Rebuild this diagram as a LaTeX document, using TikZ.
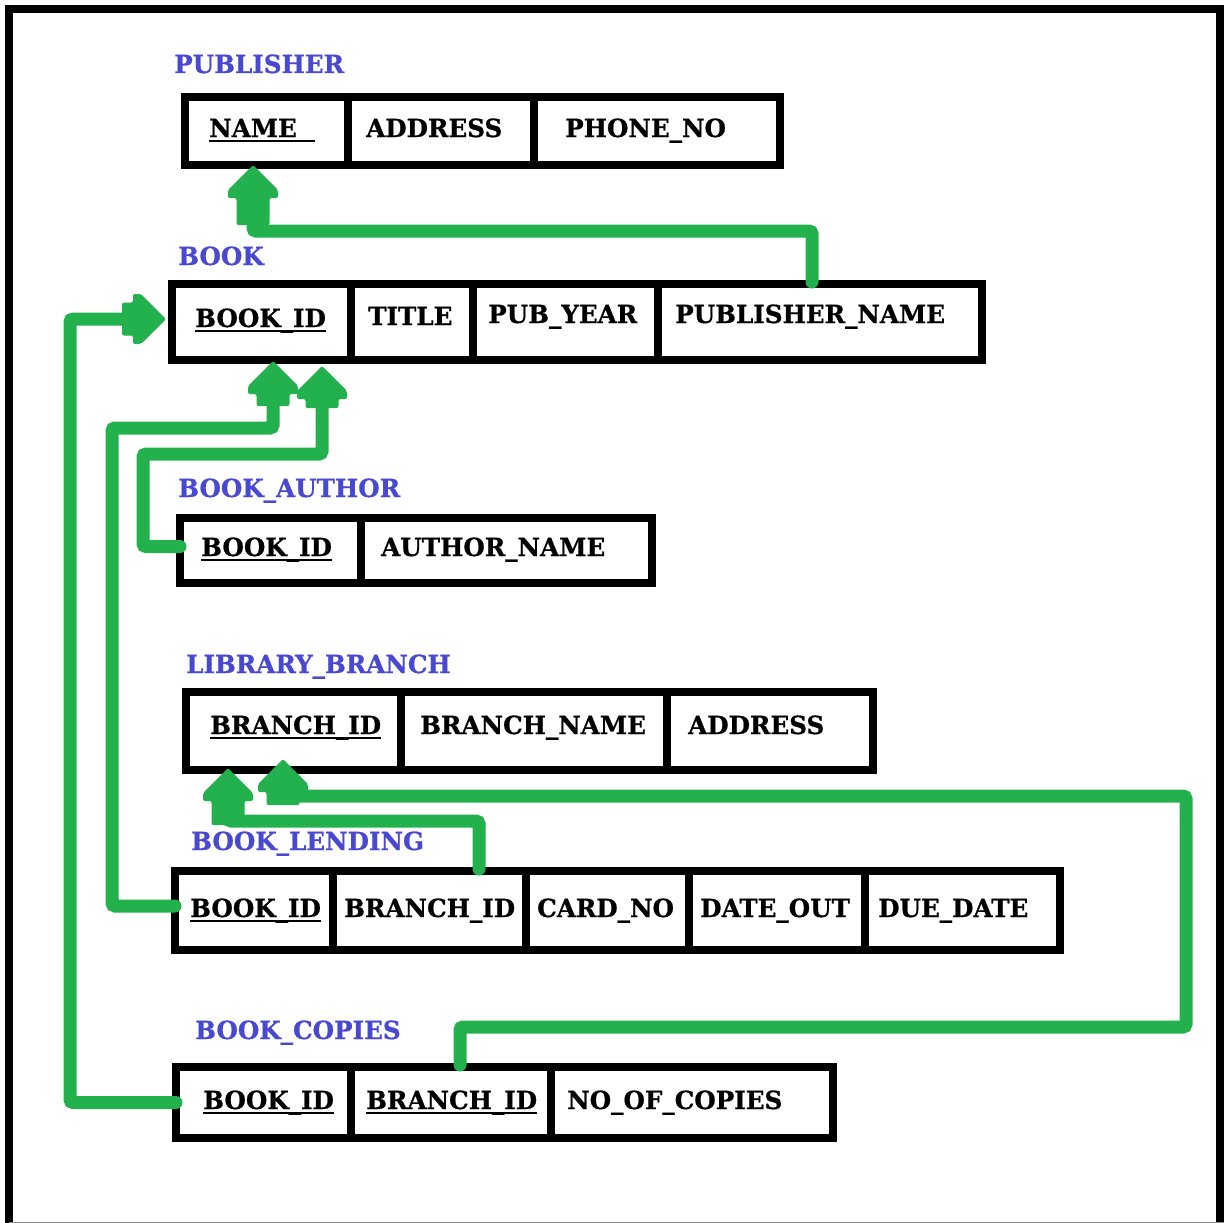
\documentclass[tikz,border=0pt]{standalone}
\usepackage{fontspec}
\newfontfamily\dvserif[FakeStretch=0.985,FakeBold=0.7]{DejaVu Serif}
\usetikzlibrary{calc}
\definecolor{pgreen}{RGB}{34,177,76}
\definecolor{lblue}{RGB}{72,72,208}
\newcommand\ulk[2][0pt]{\setbox0\hbox{#2\hspace{#1}}\rlap{\rule[-5pt]{\wd0}{2pt}}#2}
\tikzset{
  cell/.style={draw=black, line width=8pt, inner sep=0pt, outer sep=0pt, anchor=north west},
  cfont/.style={font=\dvserif\bfseries\fontsize{25pt}{30pt}\selectfont},
  ctext/.style={cfont, text=black, anchor=base west, inner sep=0pt},
  ttl/.style={cfont, text=lblue, anchor=base west, inner sep=0pt},
  conn/.style={draw=pgreen, line width=13pt, rounded corners=3pt, line cap=round},
  pics/headup/.style={code={\fill[pgreen, rounded corners=2pt] (0,0) -- (25,25) -- (25,33) -- (16.5,33) -- (16.5,#1) -- (-16.5,#1) -- (-16.5,33) -- (-25,33) -- (-25,25) -- cycle;}},
  pics/headright/.style={code={\fill[pgreen, rounded corners=2pt] (0,0) -- (-25,25) -- (-33,25) -- (-33,16.5) -- (-#1,16.5) -- (-#1,-16.5) -- (-33,-16.5) -- (-33,-25) -- (-25,-25) -- cycle;}},
}
\begin{document}
\begin{tikzpicture}[x=1pt,y=-1pt]
\useasboundingbox (0,0) rectangle (1224,1223);
\fill[white] (0,0) rectangle (1224,1223);
% frame
\draw[black, line width=8pt] (9,1223) -- (9,9) -- (1220,9) -- (1220,1223);
\draw[black!45, line width=1pt] (9,1222.5) -- (1224,1222.5);

% PUBLISHER
\node[ttl] (pub-l) at (174,73) {PUBLISHER};
\node[cell, minimum width=163pt, minimum height=68pt] (pub-name) at (185,97) {};
\node[cell, minimum width=186pt, minimum height=68pt] (pub-addr) at (348,97) {};
\node[cell, minimum width=246pt, minimum height=68pt] (pub-ph) at (534,97) {};
\node[ctext] (pub-name-t) at (209,137) {\ulk[18pt]{NAME}};
\node[ctext] (pub-addr-t) at (366,137) {ADDRESS};
\node[ctext] (pub-ph-t) at (565,137) {PHONE\_NO};

% BOOK
\node[ttl] (bk-l) at (178,265) {BOOK};
\node[cell, minimum width=179pt, minimum height=76pt] (bk-id) at (172,284) {};
\node[cell, minimum width=122pt, minimum height=76pt] (bk-ti) at (351,284) {};
\node[cell, minimum width=185pt, minimum height=76pt] (bk-py) at (473,284) {};
\node[cell, minimum width=324pt, minimum height=76pt] (bk-pn) at (658,284) {};
\node[ctext] (bk-id-t) at (195,327) {\ulk{BOOK\_ID}};
\node[ctext] (bk-ti-t) at (368,325) {TITLE};
\node[ctext] (bk-py-t) at (488,323) {PUB\_YEAR};
\node[ctext] (bk-pn-t) at (675,323) {PUBLISHER\_NAME};

% BOOK_AUTHOR
\node[ttl] (ba-l) at (178,497) {BOOK\_AUTHOR};
\node[cell, minimum width=181pt, minimum height=65pt] (ba-id) at (180,518) {};
\node[cell, minimum width=291pt, minimum height=65pt] (ba-an) at (361,518) {};
\node[ctext] (ba-id-t) at (201,556) {\ulk{BOOK\_ID}};
\node[ctext] (ba-an-t) at (381,556) {AUTHOR\_NAME};

% LIBRARY_BRANCH
\node[ttl] (lb-l) at (186,673) {LIBRARY\_BRANCH};
\node[cell, minimum width=215pt, minimum height=78pt] (lb-id) at (186,692) {};
\node[cell, minimum width=266pt, minimum height=78pt] (lb-bn) at (401,692) {};
\node[cell, minimum width=206pt, minimum height=78pt] (lb-ad) at (667,692) {};
\node[ctext] (lb-id-t) at (210,734) {\ulk{BRANCH\_ID}};
\node[ctext] (lb-bn-t) at (420,734) {BRANCH\_NAME};
\node[ctext] (lb-ad-t) at (688,734) {ADDRESS};

% BOOK_LENDING
\node[ttl] (bl-l) at (191,850) {BOOK\_LENDING};
\node[cell, minimum width=158pt, minimum height=79pt] (bl-id) at (175,871) {};
\node[cell, minimum width=193pt, minimum height=79pt] (bl-br) at (333,871) {};
\node[cell, minimum width=163pt, minimum height=79pt] (bl-cn) at (526,871) {};
\node[cell, minimum width=176pt, minimum height=79pt] (bl-do) at (689,871) {};
\node[cell, minimum width=195pt, minimum height=79pt] (bl-dd) at (865,871) {};
\node[ctext] (bl-id-t) at (190,917) {\ulk{BOOK\_ID}};
\node[ctext] (bl-br-t) at (344,917) {BRANCH\_ID};
\node[ctext] (bl-cn-t) at (537,917) {CARD\_NO};
\node[ctext] (bl-do-t) at (700,917) {DATE\_OUT};
\node[ctext] (bl-dd-t) at (878,917) {DUE\_DATE};

% BOOK_COPIES
\node[ttl] (bc-l) at (195,1039) {BOOK\_COPIES};
\node[cell, minimum width=175pt, minimum height=71pt] (bc-id) at (176,1067) {};
\node[cell, minimum width=200pt, minimum height=71pt] (bc-br) at (351,1067) {};
\node[cell, minimum width=282pt, minimum height=71pt] (bc-nc) at (551,1067) {};
\node[ctext] (bc-id-t) at (203,1109) {\ulk{BOOK\_ID}};
\node[ctext] (bc-br-t) at (366,1109) {\ulk{BRANCH\_ID}};
\node[ctext] (bc-nc-t) at (567,1109) {NO\_OF\_COPIES};

% arrow tips
\coordinate (t1) at (253,165);
\coordinate (t2) at (322,366);
\coordinate (t3) at (273,361);
\coordinate (t4) at (166,319);
\coordinate (t5) at (228,768);
\coordinate (t6) at (283,759);

% connectors
\draw[conn] ([xshift=-8pt,yshift=2pt]bk-pn.north) |- ([yshift=-66pt]t1) -- ([yshift=-40pt]t1);
\draw[conn] ([yshift=4pt]ba-id.west) -| ([xshift=-179pt,yshift=-88pt]t2) -| ([yshift=-30pt]t2);
\draw[conn] ([yshift=4.5pt]bl-id.west) -| ([xshift=-161pt,yshift=-67pt]t3) -| ([yshift=-30pt]t3);
\draw[conn] (bc-id.west) -| ([xshift=-96pt]t4) -- ([xshift=-30pt]t4);
\draw[conn] ([xshift=49.5pt,yshift=2pt]bl-br.north) |- ([yshift=-53pt]t5) -- ([yshift=-35pt]t5);
\draw[conn] ([xshift=9pt,yshift=2pt]bc-br.north) |- (1186,1027) |- ([yshift=-37pt]t6) -- ([yshift=-28pt]t6);

\pic at (t1) {headup=60};
\pic at (t2) {headup=42};
\pic at (t3) {headup=45};
\pic at (t4) {headright=44};
\pic at (t5) {headup=57};
\pic at (t6) {headup=46};
\end{tikzpicture}
\end{document}
